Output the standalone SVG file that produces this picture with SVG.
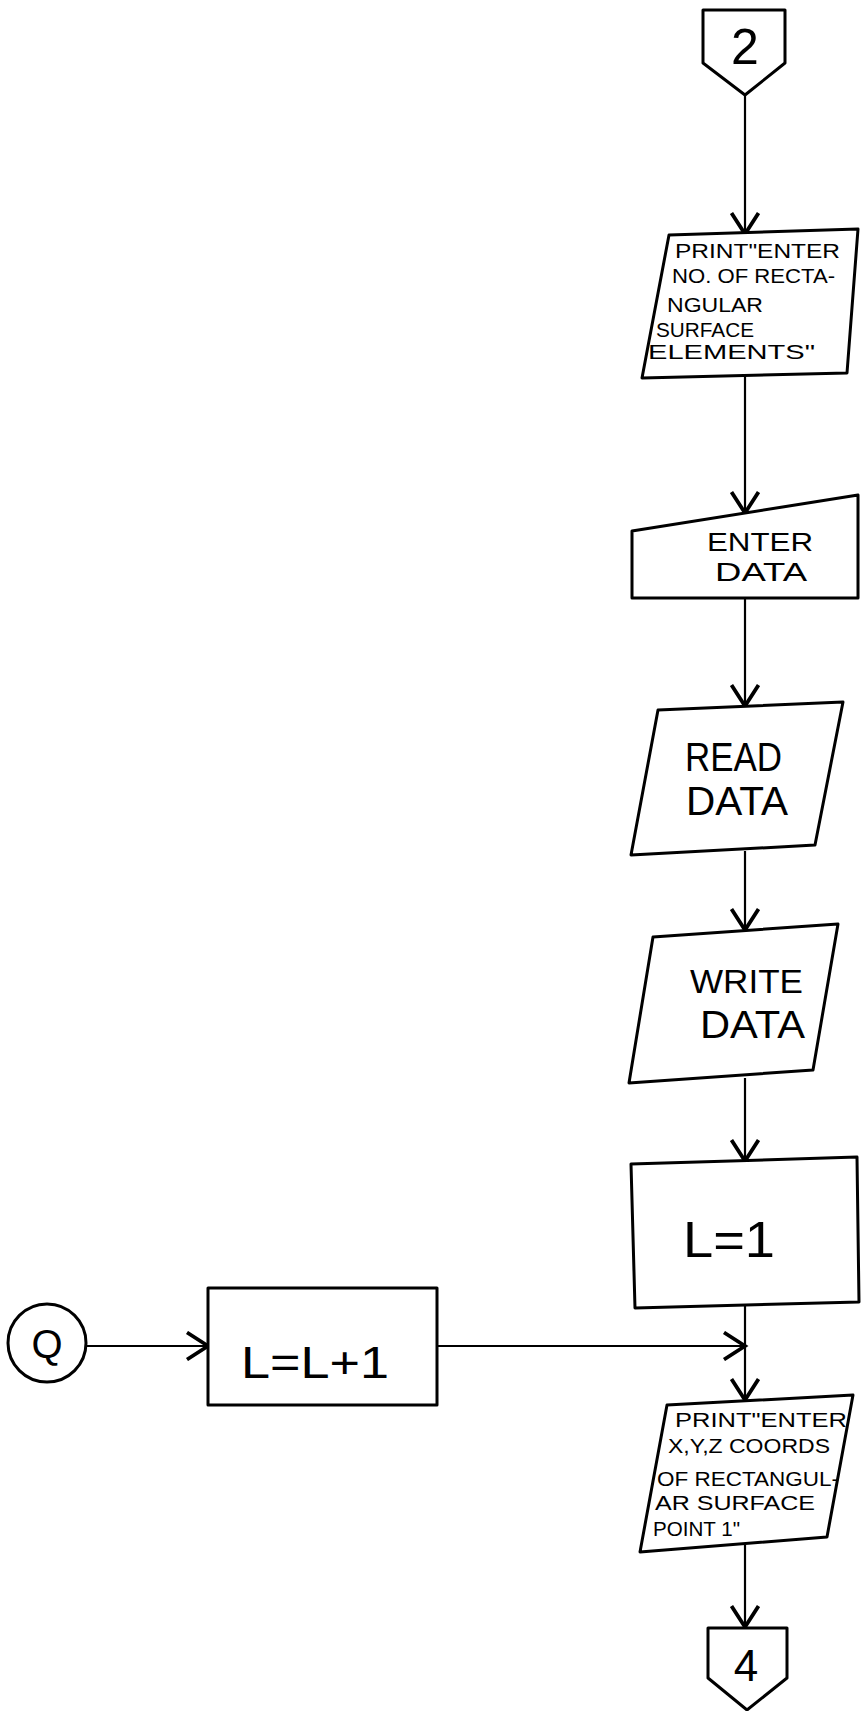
<svg xmlns="http://www.w3.org/2000/svg" width="864" height="1711" viewBox="0 0 864 1711">
<style>
.box{fill:#fff;stroke:#000;stroke-width:3;stroke-linejoin:round}
.ln{fill:none;stroke:#000;stroke-width:2.2}
.t{font-family:"Liberation Sans",Arial,sans-serif;fill:#000}
.s{font-size:20px}
</style>
<defs>
<marker id="arr" markerUnits="userSpaceOnUse" markerWidth="30" markerHeight="30" refX="16" refY="10" orient="auto" viewBox="0 0 20 20">
<path d="M2,1 L16,10 L2,19" fill="none" stroke="#000" stroke-width="2.5"/>
</marker>
</defs>
<g id="connectors">
<line class="ln" x1="745" y1="95" x2="745" y2="234" marker-end="url(#arr)"/>
<line class="ln" x1="745" y1="376" x2="745" y2="513" marker-end="url(#arr)"/>
<line class="ln" x1="745" y1="598" x2="745" y2="706" marker-end="url(#arr)"/>
<line class="ln" x1="745" y1="851" x2="745" y2="930" marker-end="url(#arr)"/>
<line class="ln" x1="745" y1="1078" x2="745" y2="1161" marker-end="url(#arr)"/>
<line class="ln" x1="745" y1="1305" x2="745" y2="1400" marker-end="url(#arr)"/>
<line class="ln" x1="86" y1="1346" x2="208" y2="1346" marker-end="url(#arr)"/>
<line class="ln" x1="437" y1="1346" x2="745" y2="1346" marker-end="url(#arr)"/>
<line class="ln" x1="745" y1="1545" x2="745" y2="1627" marker-end="url(#arr)"/>
</g>
<g id="off-page-2">
<polygon class="box" points="703,10 785,10 785,63 745,95 703,63"/>
<text class="t" x="745" y="64" font-size="50" text-anchor="middle">2</text>
</g>
<g id="print-1">
<polygon class="box" points="669,235 858,229 847,373 642,378"/>
<text class="t s" x="675" y="258" textLength="165" lengthAdjust="spacingAndGlyphs">PRINT"ENTER</text>
<text class="t s" x="672" y="283" textLength="163" lengthAdjust="spacingAndGlyphs">NO. OF RECTA-</text>
<text class="t s" x="667" y="312" textLength="96" lengthAdjust="spacingAndGlyphs">NGULAR</text>
<text class="t s" x="656" y="337" textLength="98" lengthAdjust="spacingAndGlyphs">SURFACE</text>
<text class="t s" x="648" y="359" textLength="167" lengthAdjust="spacingAndGlyphs">ELEMENTS"</text>
</g>
<g id="enter-data">
<polygon class="box" points="632,531 858,495 858,598 632,598"/>
<text class="t" x="707" y="551" font-size="26" textLength="106" lengthAdjust="spacingAndGlyphs">ENTER</text>
<text class="t" x="715" y="581" font-size="26" textLength="92" lengthAdjust="spacingAndGlyphs">DATA</text>
</g>
<g id="read-data">
<polygon class="box" points="658,710 843,702 815,845 631,855"/>
<text class="t" x="685" y="771" font-size="40" textLength="97" lengthAdjust="spacingAndGlyphs">READ</text>
<text class="t" x="686" y="815" font-size="40" textLength="102" lengthAdjust="spacingAndGlyphs">DATA</text>
</g>
<g id="write-data">
<polygon class="box" points="653,937 838,924 813,1070 629,1083"/>
<text class="t" x="690" y="993" font-size="34" textLength="113" lengthAdjust="spacingAndGlyphs">WRITE</text>
<text class="t" x="700" y="1038" font-size="38" textLength="105" lengthAdjust="spacingAndGlyphs">DATA</text>
</g>
<g id="l-equals-1">
<polygon class="box" points="631,1164 857,1157 859,1302 635,1308"/>
<text class="t" x="683" y="1257" font-size="50" textLength="92" lengthAdjust="spacingAndGlyphs">L=1</text>
</g>
<g id="connector-q">
<circle class="box" cx="47" cy="1343" r="39"/>
<text class="t" x="47" y="1358" font-size="40" text-anchor="middle">Q</text>
</g>
<g id="l-increment">
<rect class="box" x="208" y="1288" width="229" height="117"/>
<text class="t" x="241" y="1378" font-size="44" textLength="148" lengthAdjust="spacingAndGlyphs">L=L+1</text>
</g>
<g id="print-2">
<polygon class="box" points="667,1405 853,1395 827,1537 640,1552"/>
<text class="t s" x="675" y="1427" textLength="172" lengthAdjust="spacingAndGlyphs">PRINT"ENTER</text>
<text class="t s" x="668" y="1453" textLength="162" lengthAdjust="spacingAndGlyphs">X,Y,Z COORDS</text>
<text class="t s" x="657" y="1486" textLength="182" lengthAdjust="spacingAndGlyphs">OF RECTANGUL-</text>
<text class="t s" x="655" y="1510" textLength="160" lengthAdjust="spacingAndGlyphs">AR SURFACE</text>
<text class="t s" x="653" y="1536" textLength="87" lengthAdjust="spacingAndGlyphs">POINT 1"</text>
</g>
<g id="off-page-4">
<polygon class="box" points="708,1628 787,1628 787,1678 747,1710 708,1678"/>
<text class="t" x="746" y="1681" font-size="44" text-anchor="middle">4</text>
</g>
</svg>
